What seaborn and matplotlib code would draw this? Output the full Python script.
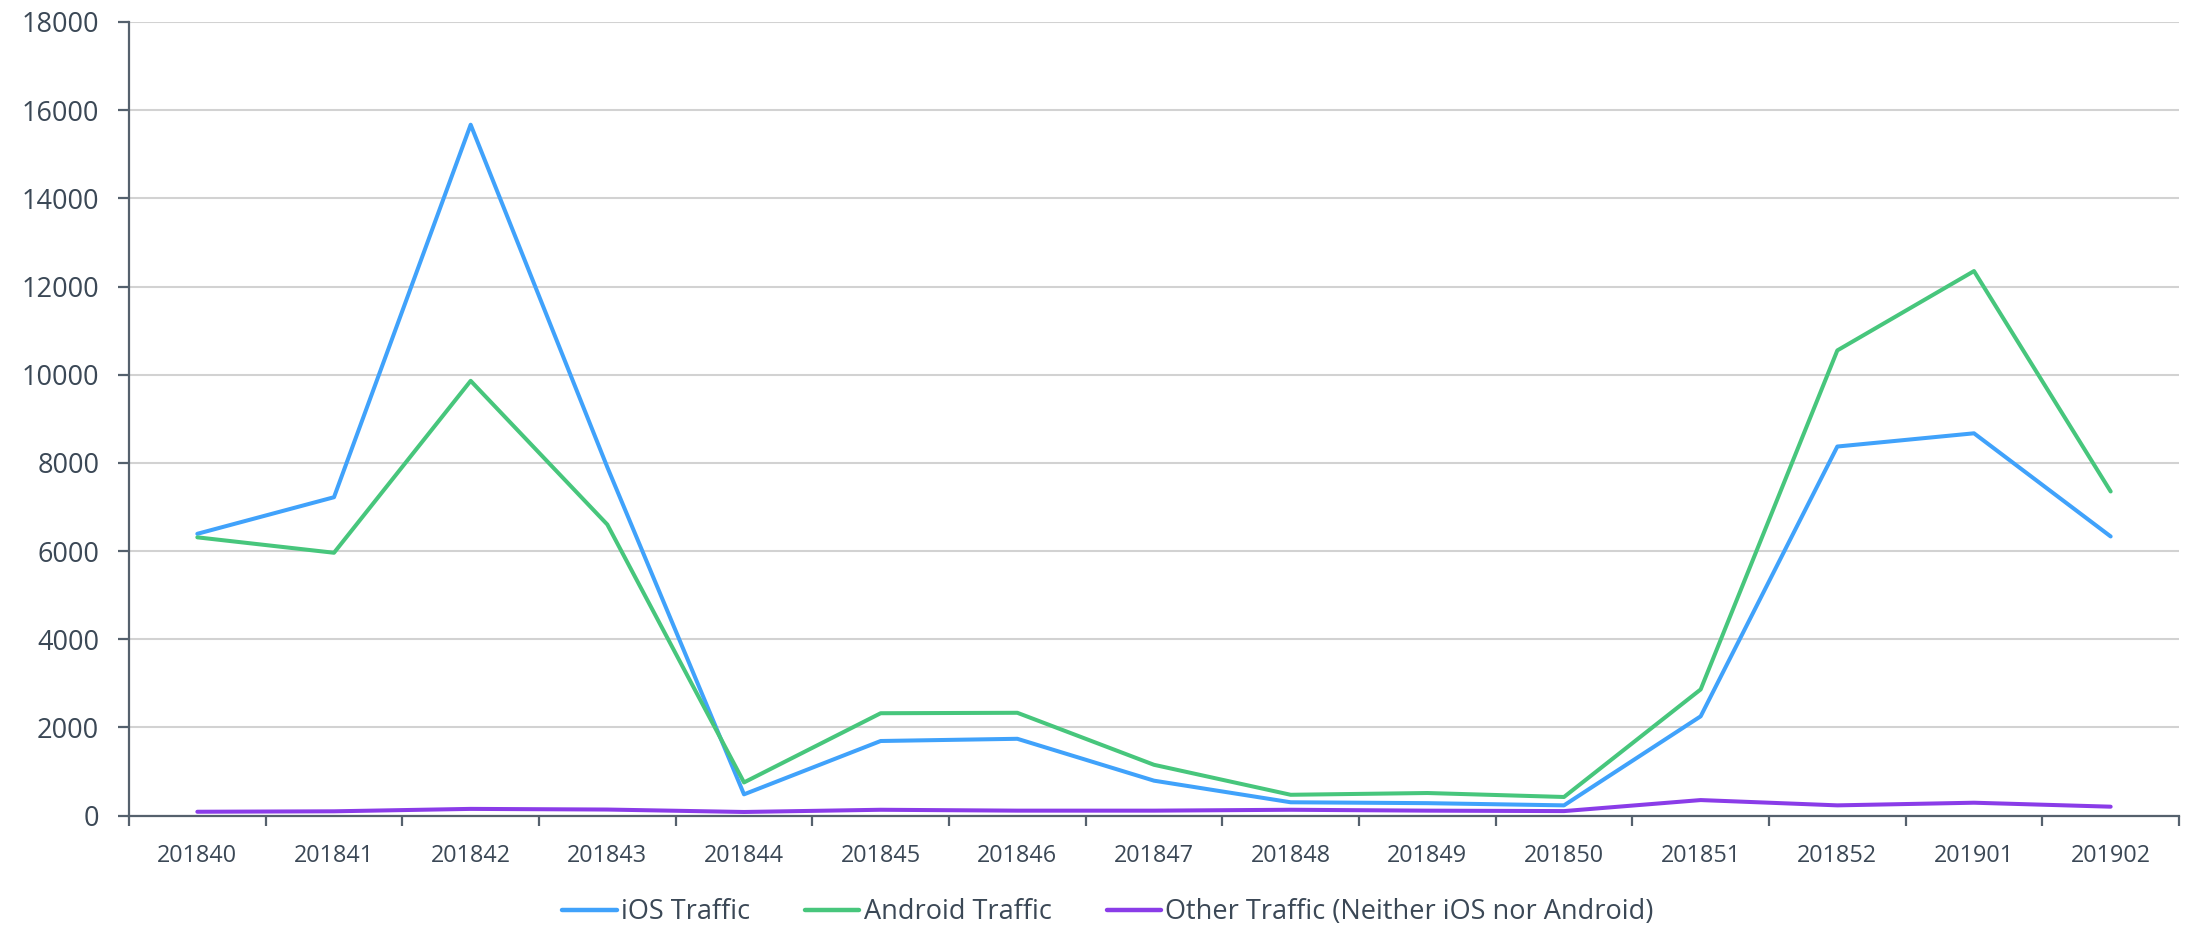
import matplotlib
matplotlib.use("Agg")
import matplotlib.pyplot as plt
import seaborn as sns
import pandas as pd
import numpy as np
from matplotlib.lines import Line2D

weeks = ["201840", "201841", "201842", "201843", "201844", "201845", "201846", "201847",
         "201848", "201849", "201850", "201851", "201852", "201901", "201902"]
ios_traffic = [6390, 7220, 15670, 7900, 480, 1690, 1740, 790, 300, 280, 230, 2250, 8370, 8670, 6330]
android_traffic = [6310, 5960, 9860, 6600, 750, 2320, 2330, 1150, 470, 510, 420, 2860, 10550, 12350, 7350]
other_traffic = [85, 95, 150, 135, 80, 130, 110, 110, 130, 110, 100, 350, 230, 290, 200]
series_names = ["iOS Traffic", "Android Traffic", "Other Traffic (Neither iOS nor Android)"]
y_ticks = [0, 2000, 4000, 6000, 8000, 10000, 12000, 14000, 16000, 18000]

sns.set_theme(style="white")
plt.rcParams['font.family'] = ['Open Sans', 'DejaVu Sans']

rows = []
for name, vals in zip(series_names, [ios_traffic, android_traffic, other_traffic]):
    for w, v in zip(weeks, vals):
        rows.append({"week": w, "value": v, "series": name})
df = pd.DataFrame(rows)

palette = {series_names[0]: "#40a2fb", series_names[1]: "#47c67c", series_names[2]: "#8a3ce8"}
text_color = "#3b4856"
axis_color = "#55616d"

fig = plt.figure(figsize=(21.9, 9.27), dpi=100)
ax = fig.add_axes([129/2190, (927-815.5)/927, (2179-129)/2190, (815.5-22)/927])

sns.lineplot(data=df, x="week", y="value", hue="series", palette=palette,
             hue_order=series_names, linewidth=2.9, ax=ax, legend=False, sort=False)

ax.set_xlim(-0.5, len(weeks) - 0.5)
ax.set_ylim(0, 18000)
ax.set_yticks(y_ticks)
ax.set_yticklabels([str(t) for t in y_ticks])
ax.set_xticks(range(len(weeks)))
ax.set_xticklabels(weeks)
ax.set_xticks(np.arange(-0.5, len(weeks), 1.0), minor=True)
ax.set_xlabel("")
ax.set_ylabel("")

ax.grid(axis="y", color="#d2d2d2", linewidth=1.5)
ax.grid(axis="x", visible=False)
ax.set_axisbelow(True)

for s in ["top", "right"]:
    ax.spines[s].set_visible(False)
for s in ["left", "bottom"]:
    ax.spines[s].set_color(axis_color)
    ax.spines[s].set_linewidth(1.6)

ax.tick_params(axis="y", which="major", direction="out", length=8, width=1.6,
               color=axis_color, labelsize=19.5, labelcolor=text_color, pad=13.5, left=True)
ax.tick_params(axis="x", which="major", length=0, labelsize=16.8, labelcolor=text_color, pad=20.5)
ax.tick_params(axis="x", which="minor", direction="out", length=7, width=1.6,
               color=axis_color, bottom=True)

handles = [Line2D([0], [0], color=palette[n], linewidth=3.2) for n in series_names]
fig.legend(handles, series_names, loc="center", bbox_to_anchor=(1108/2190, 1 - 912/927),
           ncol=3, frameon=False, fontsize=19.5, labelcolor=text_color,
           handlelength=2.0, handletextpad=0.15, columnspacing=2.05)

fig.savefig("out.png", dpi=100)
